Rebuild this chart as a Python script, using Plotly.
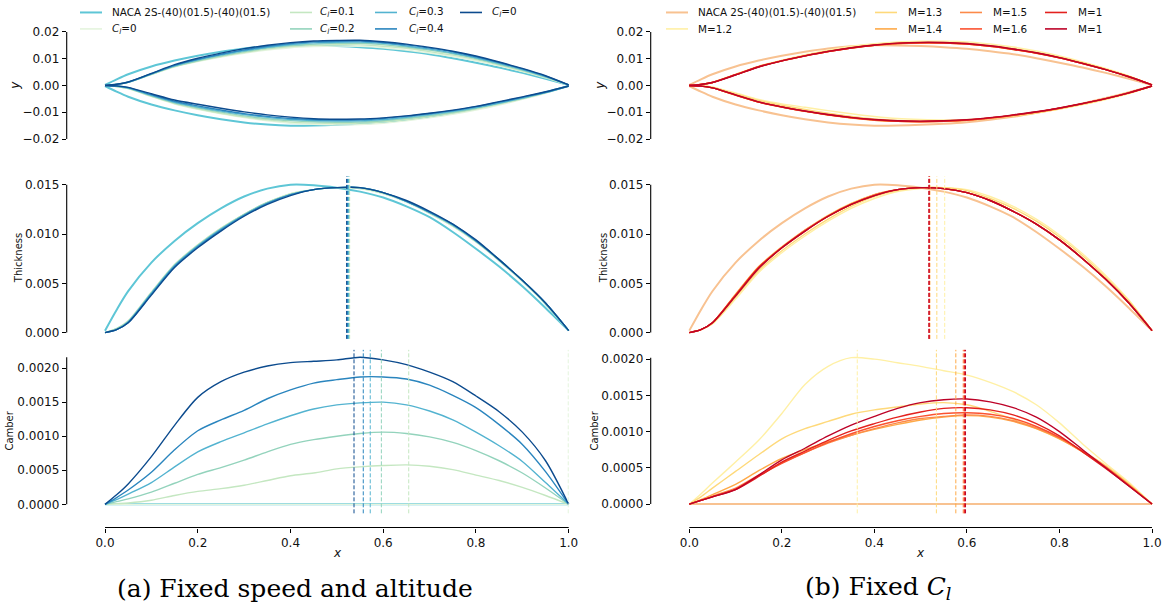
import plotly.graph_objects as go

W, H = 1169, 611

# ---------------- data ----------------
X = [0, 0.025, 0.05, 0.1, 0.15, 0.2, 0.25, 0.3, 0.35, 0.4, 0.45, 0.5,
     0.55, 0.6, 0.65, 0.7, 0.75, 0.8, 0.85, 0.9, 0.95, 1.0]

ZERO = [0.0, 0.0, 0.0, 0.0, 0.0, 0.0, 0.0, 0.0, 0.0, 0.0, 0.0, 0.0,
        0.0, 0.0, 0.0, 0.0, 0.0, 0.0, 0.0, 0.0, 0.0, 0.0]

THICK_NACA = [0.0002, 0.0023, 0.0042, 0.0071, 0.0093, 0.0111, 0.0126, 0.0138, 0.0146, 0.0150, 0.01495, 0.0147,
              0.0143, 0.0137, 0.0128, 0.0117, 0.0102, 0.0085, 0.0067, 0.0047, 0.0025, 0.0002]

# Fixed speed and altitude (left)
THICK_CL0 = [0.0, 0.0004, 0.0012, 0.0041, 0.0069, 0.0089, 0.0106, 0.0120, 0.0132, 0.0141, 0.0145, 0.0147,
             0.0146, 0.0141, 0.0132, 0.0121, 0.0108, 0.0092, 0.0073, 0.0052, 0.0029, 0.0002]
THICK_CL01 = [0.0, 0.0004, 0.0012, 0.0041, 0.0069, 0.0089, 0.0106, 0.0120, 0.0132, 0.0141, 0.0145, 0.0147,
              0.0146, 0.0141, 0.0133, 0.0121, 0.0108, 0.0092, 0.0073, 0.0052, 0.0029, 0.0002]
THICK_CL02 = [0.0, 0.0004, 0.0011, 0.0040, 0.0068, 0.0088, 0.0105, 0.0120, 0.0132, 0.0140, 0.0145, 0.0147,
              0.0147, 0.0142, 0.0133, 0.0122, 0.0109, 0.0093, 0.0073, 0.0053, 0.0029, 0.0002]
THICK_CL03 = [0.0, 0.0003, 0.0011, 0.0040, 0.0068, 0.0088, 0.0105, 0.0119, 0.0131, 0.0140, 0.0145, 0.0147,
              0.0147, 0.0142, 0.0133, 0.0122, 0.0109, 0.0093, 0.0074, 0.0053, 0.0030, 0.0002]
THICK_CL04 = [0.0, 0.0003, 0.0010, 0.0039, 0.0067, 0.0087, 0.0104, 0.0119, 0.0131, 0.0140, 0.0145, 0.0147,
              0.0147, 0.0142, 0.0133, 0.0122, 0.0110, 0.0093, 0.0074, 0.0053, 0.0030, 0.0002]
THICK_CL05 = [0.0, 0.0003, 0.0010, 0.0038, 0.0066, 0.0086, 0.0103, 0.0118, 0.0130, 0.0139, 0.0145, 0.0147,
              0.0147, 0.0142, 0.0134, 0.0123, 0.0110, 0.0094, 0.0074, 0.0053, 0.0030, 0.0002]

CAMB_CL01 = [0.0, 0.00001, 0.00002, 0.00006, 0.00013, 0.00019, 0.00023, 0.00028, 0.00035, 0.00042, 0.00046, 0.00052,
             0.00055, 0.00057, 0.00058, 0.00056, 0.00051, 0.00043, 0.00035, 0.00025, 0.00013, 0.0]
CAMB_CL02 = [0.0, 0.00004, 0.00008, 0.00018, 0.00031, 0.00044, 0.00054, 0.00065, 0.00077, 0.00088, 0.00095, 0.00100,
             0.00104, 0.00106, 0.00104, 0.00099, 0.00091, 0.00079, 0.00064, 0.00046, 0.00024, 0.0]
CAMB_CL03 = [0.0, 0.00007, 0.00015, 0.00032, 0.00055, 0.00077, 0.00092, 0.00105, 0.00118, 0.00130, 0.00140, 0.00146,
             0.00149, 0.00150, 0.00146, 0.00137, 0.00124, 0.00106, 0.00086, 0.00063, 0.00032, 0.0]
CAMB_CL04 = [0.0, 0.00010, 0.00021, 0.00047, 0.00080, 0.00108, 0.00124, 0.00138, 0.00155, 0.00168, 0.00178, 0.00183,
             0.00187, 0.00187, 0.00184, 0.00175, 0.00160, 0.00142, 0.00117, 0.00088, 0.00048, 0.0]
CAMB_CL05 = [0.0, 0.00014, 0.00030, 0.00070, 0.00116, 0.00157, 0.00180, 0.00194, 0.00203, 0.00208, 0.00210, 0.00212,
             0.00216, 0.00212, 0.00205, 0.00194, 0.00180, 0.00159, 0.00136, 0.00106, 0.00064, 0.0]

# positions of max thickness / max camber (dashed lines)
VT_LEFT = [None, 0.528, 0.527, 0.526, 0.525, 0.523, 0.521]
VC_LEFT = [None, 0.999, 0.655, 0.596, 0.572, 0.557, 0.537]

# Fixed Cl (right)
THICK_M12 = [0.0, 0.0003, 0.0009, 0.0034, 0.0061, 0.0081, 0.0098, 0.0113, 0.0126, 0.0136, 0.0143, 0.0146,
             0.0147, 0.0145, 0.0138, 0.0128, 0.0115, 0.0099, 0.0080, 0.0058, 0.0033, 0.0002]
THICK_M13 = [0.0, 0.0003, 0.0009, 0.0036, 0.0063, 0.0083, 0.0100, 0.0115, 0.0128, 0.0138, 0.0144, 0.0147,
             0.0147, 0.0144, 0.0136, 0.0126, 0.0113, 0.0097, 0.0078, 0.0056, 0.0032, 0.0002]
THICK_M14 = [0.0, 0.0003, 0.0010, 0.0039, 0.0067, 0.0087, 0.0104, 0.0119, 0.0131, 0.0140, 0.0145, 0.0147,
             0.0146, 0.0142, 0.0134, 0.0123, 0.0110, 0.0094, 0.0075, 0.0054, 0.0030, 0.0002]
THICK_M15 = [0.0, 0.0003, 0.0010, 0.0038, 0.0066, 0.0086, 0.0104, 0.0118, 0.0130, 0.0140, 0.0145, 0.0147,
             0.0146, 0.0142, 0.0134, 0.0123, 0.0110, 0.0094, 0.0075, 0.0054, 0.0030, 0.0002]
THICK_M16 = [0.0, 0.0003, 0.0010, 0.0038, 0.0066, 0.0086, 0.0103, 0.0118, 0.0130, 0.0139, 0.0145, 0.0147,
             0.0146, 0.0142, 0.0134, 0.0123, 0.0110, 0.0094, 0.0075, 0.0054, 0.0030, 0.0002]
THICK_M17 = [0.0, 0.0003, 0.0010, 0.0038, 0.0066, 0.0086, 0.0103, 0.0118, 0.0130, 0.0139, 0.0145, 0.0147,
             0.0146, 0.0142, 0.0134, 0.0123, 0.0110, 0.0094, 0.0075, 0.0054, 0.0030, 0.0002]
THICK_M18 = [0.0, 0.0003, 0.0010, 0.0037, 0.0065, 0.0086, 0.0103, 0.0118, 0.0130, 0.0139, 0.0145, 0.0147,
             0.0146, 0.0142, 0.0134, 0.0123, 0.0110, 0.0094, 0.0075, 0.0054, 0.0030, 0.0002]

CAMB_M12 = [0.0, 0.00014, 0.00029, 0.00058, 0.00088, 0.00125, 0.00165, 0.00190, 0.00202, 0.00200, 0.00195, 0.00190,
            0.00184, 0.00178, 0.00168, 0.00155, 0.00137, 0.00112, 0.00083, 0.00056, 0.00030, 0.0]
CAMB_M13 = [0.0, 0.00010, 0.00022, 0.00045, 0.00068, 0.00090, 0.00104, 0.00114, 0.00124, 0.00130, 0.00134, 0.00138,
            0.00140, 0.00137, 0.00128, 0.00117, 0.00104, 0.00090, 0.00073, 0.00053, 0.00028, 0.0]
CAMB_M14 = [0.0, 0.00006, 0.00013, 0.00027, 0.00046, 0.00063, 0.00075, 0.00086, 0.00095, 0.00103, 0.00110, 0.00116,
            0.00120, 0.00122, 0.00120, 0.00114, 0.00104, 0.00090, 0.00072, 0.00051, 0.00027, 0.0]
CAMB_M15 = [0.0, 0.00005, 0.00011, 0.00022, 0.00040, 0.00057, 0.00071, 0.00084, 0.00095, 0.00104, 0.00112, 0.00118,
            0.00121, 0.00123, 0.00121, 0.00115, 0.00105, 0.00091, 0.00072, 0.00051, 0.00026, 0.0]
CAMB_M16 = [0.0, 0.00005, 0.00010, 0.00021, 0.00039, 0.00056, 0.00071, 0.00085, 0.00097, 0.00107, 0.00115, 0.00121,
            0.00125, 0.00126, 0.00124, 0.00118, 0.00107, 0.00092, 0.00073, 0.00051, 0.00026, 0.0]
CAMB_M17 = [0.0, 0.00005, 0.00010, 0.00020, 0.00038, 0.00058, 0.00073, 0.00088, 0.00101, 0.00111, 0.00120, 0.00127,
            0.00132, 0.00133, 0.00130, 0.00123, 0.00111, 0.00094, 0.00072, 0.00049, 0.00025, 0.0]
CAMB_M18 = [0.0, 0.00005, 0.00010, 0.00020, 0.00040, 0.00061, 0.00077, 0.00094, 0.00109, 0.00121, 0.00132, 0.00140,
            0.00144, 0.00145, 0.00141, 0.00133, 0.00120, 0.00100, 0.00075, 0.00050, 0.00025, 0.0]

VT_RIGHT = [None, 0.552, 0.535, 0.520, 0.519, 0.519, 0.518, 0.518]
VC_RIGHT = [None, 0.363, 0.534, 0.576, 0.592, 0.594, 0.595, 0.597]

LEFT_LABELS = ["NACA 2S-(40)(01.5)-(40)(01.5)", "<i>C</i><sub><i>l</i></sub>=0",
               "<i>C</i><sub><i>l</i></sub>=0.1", "<i>C</i><sub><i>l</i></sub>=0.2",
               "<i>C</i><sub><i>l</i></sub>=0.3", "<i>C</i><sub><i>l</i></sub>=0.4",
               "<i>C</i><sub><i>l</i></sub>=0"]
RIGHT_LABELS = ["NACA 2S-(40)(01.5)-(40)(01.5)", "M=1.2", "M=1.3", "M=1.4",
                "M=1.5", "M=1.6", "M=1", "M=1"]

LEFT_COLORS = ["#5ec6d6", "#e4f4de", "#c4e7c1", "#93d3bc", "#53b3d0", "#2a85be", "#0c4b8e"]
RIGHT_COLORS = ["#f8c291", "#fff0a5", "#fed97a", "#feaa48", "#fc8a4a", "#fb5230", "#e3211e", "#bd0328"]

LEFT_THICK = [THICK_NACA, THICK_CL0, THICK_CL01, THICK_CL02, THICK_CL03, THICK_CL04, THICK_CL05]
LEFT_CAMB = [ZERO, ZERO, CAMB_CL01, CAMB_CL02, CAMB_CL03, CAMB_CL04, CAMB_CL05]
RIGHT_THICK = [THICK_NACA, THICK_M12, THICK_M13, THICK_M14, THICK_M15, THICK_M16, THICK_M17, THICK_M18]
RIGHT_CAMB = [ZERO, CAMB_M12, CAMB_M13, CAMB_M14, CAMB_M15, CAMB_M16, CAMB_M17, CAMB_M18]

# ---------------- layout geometry (pixels) ----------------
COLS = {
    "L": dict(dom=(66.7, 585.0), zero=105.0, one=568.7),
    "R": dict(dom=(650.7, 1165.0), zero=689.3, one=1152.0),
}
ROWS = {
    "top": dict(dom=(25.0, 145.0), zero=83.75, scale=2687.5),
    "mid": dict(dom=(170.0, 345.0), zero=331.7, scale=9893.0),
    "botL": dict(dom=(345.0, 527.3), zero=504.0, scale=68350.0),
    "botR": dict(dom=(345.0, 527.3), zero=503.7, scale=72700.0),
}

TICKFONT = dict(family="DejaVu Sans", size=12, color="#111111")
fig = go.Figure()
layout = dict(width=W, height=H, margin=dict(l=0, r=0, t=0, b=0),
              plot_bgcolor="white", paper_bgcolor="white", showlegend=False)
shapes = []
annotations = []


def fx(p):
    return p / W


def fy(p):
    return 1 - p / H


def xn(idx):
    return "x" if idx == 1 else "x%d" % idx


def yn(idx):
    return "y" if idx == 1 else "y%d" % idx


def setup_axes(idx, col, row, yticks, yticktext, bottom):
    c = COLS[col]
    r = ROWS[row]
    sx = c["one"] - c["zero"]
    xr = [(c["dom"][0] - c["zero"]) / sx, (c["dom"][1] - c["zero"]) / sx]
    yr = [(r["zero"] - r["dom"][1]) / r["scale"], (r["zero"] - r["dom"][0]) / r["scale"]]
    xa = dict(domain=[fx(c["dom"][0]), fx(c["dom"][1])], range=xr, anchor=yn(idx),
              showgrid=False, zeroline=False, showline=False, fixedrange=True)
    if bottom:
        xa.update(tickmode="array", tickvals=[0, 0.2, 0.4, 0.6, 0.8, 1.0],
                  ticktext=["0.0", "0.2", "0.4", "0.6", "0.8", "1.0"],
                  ticks="outside", ticklen=4, tickwidth=1, tickcolor="black", tickfont=TICKFONT)
    else:
        xa.update(showticklabels=False, ticks="")
    ya = dict(domain=[fy(r["dom"][1]), fy(r["dom"][0])], range=yr, anchor=xn(idx),
              showgrid=False, zeroline=False, showline=False, fixedrange=True,
              tickmode="array", tickvals=yticks, ticktext=yticktext,
              ticks="outside", ticklen=4, tickwidth=1, tickcolor="black", tickfont=TICKFONT)
    sfx = "" if idx == 1 else str(idx)
    layout["xaxis" + sfx] = xa
    layout["yaxis" + sfx] = ya


def yspine(idx, y0, y1):
    shapes.append(dict(type="line", xref=xn(idx) + " domain", yref=yn(idx),
                       x0=0, x1=0, y0=y0, y1=y1, line=dict(color="black", width=1.1)))


def xspine(idx):
    shapes.append(dict(type="line", xref=xn(idx), yref=yn(idx) + " domain",
                       x0=0, x1=1, y0=0, y1=0, line=dict(color="black", width=1.1)))


def vline(idx, xv, color, ptop, pbot):
    shapes.append(dict(type="line", xref=xn(idx), yref="paper",
                       x0=xv, x1=xv, y0=fy(pbot), y1=fy(ptop),
                       line=dict(color=color, width=1, dash="4px,2px")))


def add_line(idx, y, color, width):
    fig.add_trace(go.Scatter(x=X, y=y, xaxis=xn(idx), yaxis=yn(idx), mode="lines",
                             line=dict(color=color, width=width, shape="spline", smoothing=0.8),
                             hoverinfo="skip", showlegend=False))


TOP_T = [-0.02, -0.01, 0.0, 0.01, 0.02]
TOP_TT = ["\u22120.02", "\u22120.01", "0.00", "0.01", "0.02"]
MID_T = [0.0, 0.005, 0.010, 0.015]
MID_TT = ["0.000", "0.005", "0.010", "0.015"]
BOT_T = [0.0, 0.0005, 0.0010, 0.0015, 0.0020]
BOT_TT = ["0.0000", "0.0005", "0.0010", "0.0015", "0.0020"]

setup_axes(1, "L", "top", TOP_T, TOP_TT, False)
setup_axes(2, "L", "mid", MID_T, MID_TT, False)
setup_axes(3, "L", "botL", BOT_T, BOT_TT, True)
setup_axes(4, "R", "top", TOP_T, TOP_TT, False)
setup_axes(5, "R", "mid", MID_T, MID_TT, False)
setup_axes(6, "R", "botR", BOT_T, BOT_TT, True)

panels = [
    (1, 2, 3, LEFT_THICK, LEFT_CAMB, LEFT_COLORS, VT_LEFT, VC_LEFT),
    (4, 5, 6, RIGHT_THICK, RIGHT_CAMB, RIGHT_COLORS, VT_RIGHT, VC_RIGHT),
]

for (it, im, ib, thick, camb, colors, vt, vc) in panels:
    for k, (t, c, col) in enumerate(zip(thick, camb, colors)):
        w = 2.0 if k == 0 else 1.4
        upper = [ci + ti for ci, ti in zip(c, t)]
        lower = [ci - ti for ci, ti in zip(c, t)]
        add_line(it, upper, col, w)
        add_line(it, lower, col, w)
        add_line(im, t, col, w)
        add_line(ib, c, col, w)
    for k, col in enumerate(colors):
        if vt[k] is not None:
            vline(im, vt[k], col, 175, 338)
        if vc[k] is not None:
            vline(ib, vc[k], col, 349, 513)
    yspine(it, -0.02, 0.02)
    yspine(im, 0.0, 0.015)
    cmax = max(max(c) for c in camb)
    yspine(ib, 0.0, cmax)
    xspine(ib)

# axis titles
for (xpx, ypx, txt, size) in [(15, 84, "<i>y</i>", 12), (18, 257, "Thickness", 10), (10, 430, "Camber", 10),
                             (600, 84, "<i>y</i>", 12), (603, 257, "Thickness", 10), (595, 430, "Camber", 10)]:
    annotations.append(dict(x=fx(xpx), y=fy(ypx), xref="paper", yref="paper", text=txt, textangle=-90,
                            showarrow=False, xanchor="center", yanchor="middle",
                            font=dict(family="DejaVu Sans", size=size, color="#111111")))
for xpx in (337, 920):
    annotations.append(dict(x=fx(xpx), y=fy(553), xref="paper", yref="paper", text="<i>x</i>",
                            showarrow=False, xanchor="center", yanchor="middle",
                            font=dict(family="DejaVu Sans", size=12, color="#111111")))

# legends (drawn manually, 4 columns x 2 rows, column-major)
LEG_ROWS = [10.5, 27.0]
LEG_L_LINE = [80, 290, 375, 460]
LEG_L_TEXT = [110, 318, 407, 490]
LEG_R_LINE = [666, 875, 960, 1045]
LEG_R_TEXT = [696, 906, 991, 1076]

for labels, colors, lx, tx in [(LEFT_LABELS, LEFT_COLORS, LEG_L_LINE, LEG_L_TEXT),
                               (RIGHT_LABELS, RIGHT_COLORS, LEG_R_LINE, LEG_R_TEXT)]:
    for k, (lab, col) in enumerate(zip(labels, colors)):
        ci, ri = k // 2, k % 2
        yy = LEG_ROWS[ri]
        shapes.append(dict(type="line", xref="paper", yref="paper",
                           x0=fx(lx[ci]), x1=fx(lx[ci] + 22), y0=fy(yy), y1=fy(yy),
                           line=dict(color=col, width=2.0 if k == 0 else 1.6)))
        annotations.append(dict(x=fx(tx[ci]), y=fy(yy), xref="paper", yref="paper", text=lab,
                                showarrow=False, xanchor="left", yanchor="middle",
                                font=dict(family="DejaVu Sans", size=10.4, color="#111111")))

# captions
CAP = dict(family="DejaVu Serif", size=25, color="black")
annotations.append(dict(x=fx(295), y=fy(588), xref="paper", yref="paper",
                        text="(a) Fixed speed and altitude", showarrow=False,
                        xanchor="center", yanchor="middle", font=CAP))
annotations.append(dict(x=fx(878), y=fy(588), xref="paper", yref="paper",
                        text="(b) Fixed <i>C</i><sub><i>l</i></sub>", showarrow=False,
                        xanchor="center", yanchor="middle", font=CAP))

layout["shapes"] = shapes
layout["annotations"] = annotations
fig.update_layout(**layout)
fig.write_html("out.html")
